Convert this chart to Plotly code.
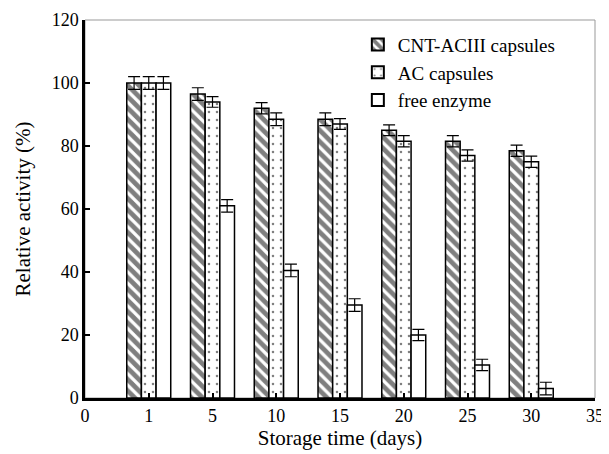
import plotly.graph_objects as go

# Data
tick_labels = ["0", "1", "5", "10", "15", "20", "25", "30", "35"]
days = ["1", "5", "10", "15", "20", "25", "30"]
cnt_acIII = [100, 96.5, 92, 88.5, 85, 81.5, 78.5]
ac_caps = [100, 94, 88.5, 87, 81.5, 77, 75]
free_enzyme = [100, 61, 40.5, 29.5, 20, 10.5, 3]
err_cnt = [2, 2, 1.8, 2, 1.7, 1.8, 1.8]
err_ac = [2, 1.7, 2, 1.7, 1.8, 1.8, 1.8]
err_free = [2, 2, 2, 2, 1.8, 1.8, 2]

pos = [tick_labels.index(d) for d in days]

font_family = "Liberation Serif, Times New Roman, serif"

fig = go.Figure()

def add(name, vals, errs, shape, size, solidity):
    fig.add_trace(go.Bar(
        x=pos, y=vals, name=name,
        marker=dict(color="white", line=dict(color="black", width=1.5),
                    pattern=dict(shape=shape, size=size, solidity=solidity,
                                 fgcolor="black", bgcolor="white", fillmode="overlay")),
        error_y=dict(type="data", array=errs, visible=True, color="black",
                     thickness=1.2, width=6),
    ))

add("CNT-ACIII capsules", cnt_acIII, err_cnt, "\\", 8, 0.6)
add("AC capsules", ac_caps, err_ac, ".", 8, 0.08)
add("free enzyme", free_enzyme, err_free, "", 8, 0.2)

# page body has an 8px default margin; size the figure to fit the 609x454 window
fig.update_layout(
    width=601, height=446,
    margin=dict(l=77, r=14, t=12, b=56),
    paper_bgcolor="white", plot_bgcolor="white",
    barmode="group", bargap=0.31, bargroupgap=0,
    font=dict(family=font_family, size=18, color="black"),
    showlegend=True,
    legend=dict(x=0.535, y=0.985, xanchor="left", yanchor="top",
                bgcolor="rgba(0,0,0,0)", font=dict(size=19, family=font_family),
                tracegroupgap=0, itemsizing="constant", itemwidth=30),
    xaxis=dict(range=[0, 8], tickmode="array", tickvals=list(range(len(tick_labels))),
               ticktext=tick_labels, showline=True, linecolor="black", linewidth=2.5,
               ticks="inside", ticklen=5, tickwidth=2, tickcolor="black",
               showgrid=False, zeroline=False, automargin=False,
               tickfont=dict(size=18),
               title=dict(text="Storage time (days)", font=dict(size=21), standoff=3)),
    yaxis=dict(range=[0, 120], dtick=20, showline=True, linecolor="black", linewidth=2.5,
               ticks="inside", ticklen=5, tickwidth=2, tickcolor="black",
               showgrid=False, zeroline=False, automargin=False,
               tickfont=dict(size=18),
               title=dict(text="Relative activity (%)", font=dict(size=21), standoff=16)),
    shapes=[dict(type="rect", xref="paper", yref="paper", x0=0, x1=1, y0=0, y1=1,
                 line=dict(color="#999999", width=1), layer="below")],
)

fig.write_html("out.html")
